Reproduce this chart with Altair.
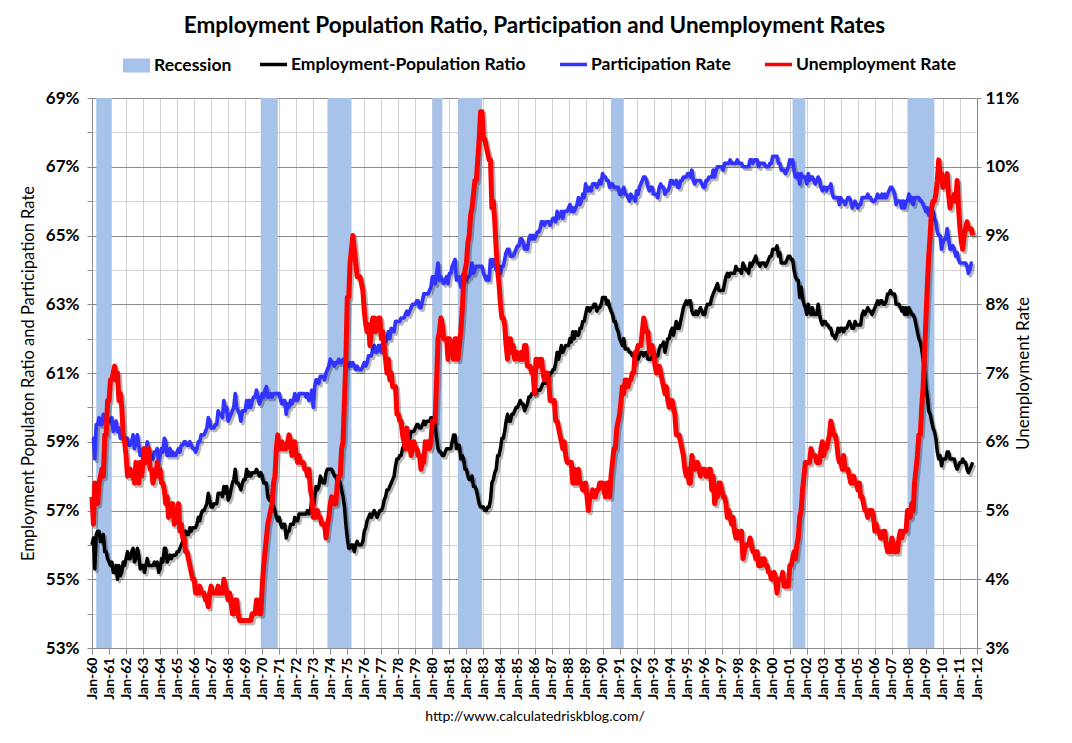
import altair as alt
import pandas as pd

start_month = "1960-01-01"

# Unemployment rate, monthly from Jan-1960 (percent)
ur = [
5.2, 4.8, 5.4, 5.2, 5.1, 5.4, 5.5, 5.6, 5.5, 6.1, 6.1, 6.6,
6.6, 6.9, 6.9, 7.0, 7.1, 6.9, 7.0, 6.6, 6.7, 6.5, 6.1, 6.0,
5.8, 5.5, 5.6, 5.6, 5.5, 5.5, 5.4, 5.7, 5.6, 5.4, 5.7, 5.5,
5.7, 5.9, 5.7, 5.7, 5.9, 5.6, 5.6, 5.4, 5.5, 5.5, 5.7, 5.5,
5.6, 5.4, 5.4, 5.3, 5.1, 5.2, 4.9, 5.0, 5.1, 5.1, 4.8, 5.0,
4.9, 5.1, 4.7, 4.8, 4.6, 4.6, 4.4, 4.4, 4.3, 4.2, 4.1, 4.0,
4.0, 3.8, 3.8, 3.8, 3.9, 3.8, 3.8, 3.8, 3.7, 3.7, 3.6, 3.8,
3.9, 3.8, 3.8, 3.8, 3.8, 3.9, 3.8, 3.8, 3.8, 4.0, 3.9, 3.8,
3.7, 3.8, 3.7, 3.5, 3.5, 3.7, 3.7, 3.5, 3.4, 3.4, 3.4, 3.4,
3.4, 3.4, 3.4, 3.4, 3.4, 3.5, 3.5, 3.5, 3.7, 3.7, 3.5, 3.5,
3.9, 4.2, 4.4, 4.6, 4.8, 4.9, 5.0, 5.1, 5.4, 5.5, 5.9, 6.1,
5.9, 5.9, 6.0, 5.9, 5.9, 5.9, 6.0, 6.1, 6.0, 5.8, 6.0, 6.0,
5.8, 5.7, 5.8, 5.7, 5.7, 5.7, 5.6, 5.6, 5.5, 5.6, 5.3, 5.2,
4.9, 5.0, 4.9, 5.0, 4.9, 4.9, 4.8, 4.8, 4.8, 4.6, 4.8, 4.9,
5.1, 5.2, 5.1, 5.1, 5.1, 5.4, 5.5, 5.5, 5.9, 6.0, 6.6, 7.2,
8.1, 8.1, 8.6, 8.8, 9.0, 8.8, 8.6, 8.4, 8.4, 8.4, 8.3, 8.2,
7.9, 7.7, 7.6, 7.7, 7.4, 7.6, 7.8, 7.8, 7.6, 7.7, 7.8, 7.8,
7.5, 7.6, 7.4, 7.2, 7.0, 7.2, 6.9, 7.0, 6.8, 6.8, 6.8, 6.4,
6.4, 6.3, 6.3, 6.1, 6.0, 5.9, 6.2, 5.9, 6.0, 5.8, 5.9, 6.0,
5.9, 5.9, 5.8, 5.8, 5.6, 5.7, 5.7, 6.0, 5.9, 6.0, 5.9, 6.0,
6.3, 6.3, 6.3, 6.9, 7.5, 7.6, 7.8, 7.7, 7.5, 7.5, 7.5, 7.2,
7.5, 7.4, 7.4, 7.2, 7.5, 7.5, 7.2, 7.4, 7.6, 7.9, 8.3, 8.5,
8.6, 8.9, 9.0, 9.3, 9.4, 9.6, 9.8, 9.8, 10.1, 10.4, 10.8, 10.8,
10.4, 10.4, 10.3, 10.2, 10.1, 10.1, 9.4, 9.5, 9.2, 8.8, 8.5, 8.3,
8.0, 7.8, 7.8, 7.7, 7.4, 7.2, 7.5, 7.5, 7.3, 7.4, 7.2, 7.3,
7.3, 7.2, 7.2, 7.3, 7.2, 7.4, 7.4, 7.1, 7.1, 7.1, 7.0, 7.0,
6.7, 7.2, 7.2, 7.1, 7.2, 7.2, 7.0, 6.9, 7.0, 7.0, 6.9, 6.6,
6.6, 6.6, 6.6, 6.3, 6.3, 6.2, 6.1, 6.0, 5.9, 6.0, 5.8, 5.7,
5.7, 5.7, 5.7, 5.4, 5.6, 5.4, 5.4, 5.6, 5.4, 5.4, 5.3, 5.3,
5.4, 5.2, 5.0, 5.2, 5.2, 5.3, 5.2, 5.2, 5.3, 5.3, 5.4, 5.4,
5.4, 5.3, 5.2, 5.4, 5.4, 5.2, 5.5, 5.7, 5.9, 5.9, 6.2, 6.3,
6.4, 6.6, 6.8, 6.7, 6.9, 6.9, 6.8, 6.9, 6.9, 7.0, 7.0, 7.3,
7.3, 7.4, 7.4, 7.4, 7.6, 7.8, 7.7, 7.6, 7.6, 7.3, 7.4, 7.4,
7.3, 7.1, 7.0, 7.1, 7.1, 7.0, 6.9, 6.8, 6.7, 6.8, 6.6, 6.5,
6.6, 6.6, 6.5, 6.4, 6.1, 6.1, 6.1, 6.0, 5.9, 5.8, 5.6, 5.5,
5.6, 5.4, 5.4, 5.8, 5.6, 5.6, 5.7, 5.7, 5.6, 5.5, 5.6, 5.6,
5.6, 5.5, 5.5, 5.6, 5.6, 5.3, 5.5, 5.1, 5.2, 5.2, 5.4, 5.4,
5.3, 5.2, 5.2, 5.1, 4.9, 5.0, 4.9, 4.8, 4.9, 4.7, 4.6, 4.7,
4.6, 4.6, 4.7, 4.3, 4.4, 4.5, 4.5, 4.5, 4.6, 4.5, 4.4, 4.4,
4.3, 4.4, 4.2, 4.3, 4.2, 4.3, 4.3, 4.2, 4.2, 4.1, 4.1, 4.0,
4.0, 4.1, 4.0, 3.8, 4.0, 4.0, 4.0, 4.1, 3.9, 3.9, 3.9, 3.9,
4.2, 4.2, 4.3, 4.4, 4.3, 4.5, 4.6, 4.9, 5.0, 5.3, 5.5, 5.7,
5.7, 5.7, 5.7, 5.9, 5.8, 5.8, 5.8, 5.7, 5.7, 5.7, 5.9, 6.0,
5.8, 5.9, 5.9, 6.0, 6.1, 6.3, 6.2, 6.1, 6.1, 6.0, 5.8, 5.7,
5.7, 5.6, 5.8, 5.6, 5.6, 5.6, 5.5, 5.4, 5.4, 5.5, 5.4, 5.4,
5.3, 5.4, 5.2, 5.2, 5.1, 5.0, 5.0, 4.9, 5.0, 5.0, 5.0, 4.9,
4.7, 4.8, 4.7, 4.7, 4.6, 4.6, 4.7, 4.7, 4.5, 4.4, 4.5, 4.4,
4.6, 4.5, 4.4, 4.5, 4.4, 4.6, 4.7, 4.6, 4.7, 4.7, 4.7, 5.0,
5.0, 4.9, 5.1, 5.0, 5.4, 5.6, 5.8, 6.1, 6.1, 6.5, 6.8, 7.3,
7.8, 8.3, 8.7, 9.0, 9.4, 9.5, 9.5, 9.6, 9.8, 10.1, 9.9, 9.9,
9.7, 9.8, 9.8, 9.9, 9.6, 9.4, 9.5, 9.5, 9.6, 9.5, 9.8, 9.4,
9.1, 8.9, 8.8, 9.0, 9.1, 9.2, 9.1, 9.1, 9.1, 9.0,
]

# Participation rate, monthly from Jan-1960 (percent)
lfpr = [
59.1, 59.1, 58.5, 59.5, 59.5, 59.7, 59.5, 59.5, 59.8, 59.6, 59.6, 59.7,
59.6, 59.6, 59.7, 59.3, 59.4, 59.6, 59.3, 59.4, 59.1, 59.1, 59.2, 59.0,
59.1, 59.1, 58.9, 58.9, 59.0, 59.2, 58.8, 59.0, 59.2, 58.9, 58.6, 58.7,
58.8, 58.7, 58.7, 59.0, 58.8, 58.6, 58.6, 58.5, 58.7, 58.7, 58.8, 58.4,
58.6, 58.8, 58.7, 59.1, 59.0, 58.6, 58.6, 58.8, 58.6, 58.7, 58.6, 58.6,
58.7, 58.8, 58.7, 58.9, 58.9, 59.0, 59.0, 58.9, 58.9, 59.0, 58.9, 58.8,
58.8, 58.7, 58.8, 59.0, 59.0, 59.2, 59.2, 59.2, 59.3, 59.4, 59.7, 59.6,
59.4, 59.4, 59.4, 59.5, 59.5, 59.9, 59.8, 59.8, 59.7, 60.2, 59.9, 60.0,
59.6, 59.7, 59.8, 59.9, 60.0, 60.4, 60.0, 59.9, 59.8, 59.6, 59.9, 59.9,
59.9, 60.2, 60.0, 60.2, 60.0, 60.2, 60.3, 60.3, 60.5, 60.3, 60.1, 60.2,
60.4, 60.3, 60.5, 60.6, 60.3, 60.3, 60.4, 60.3, 60.4, 60.4, 60.4, 60.4,
60.4, 60.2, 60.1, 60.2, 60.2, 59.8, 60.1, 60.0, 60.2, 60.1, 60.2, 60.4,
60.2, 60.2, 60.4, 60.4, 60.4, 60.4, 60.4, 60.3, 60.4, 60.2, 60.3, 60.5,
60.0, 60.6, 60.8, 60.8, 60.7, 60.9, 60.9, 60.9, 60.8, 61.0, 61.1, 61.2,
61.4, 61.3, 61.3, 61.2, 61.3, 61.3, 61.4, 61.3, 61.3, 61.4, 61.4, 61.3,
61.2, 61.2, 61.3, 61.2, 61.3, 61.2, 61.1, 61.2, 61.1, 61.1, 61.1, 61.2,
61.3, 61.2, 61.3, 61.5, 61.5, 61.5, 61.7, 61.8, 61.6, 61.6, 61.8, 61.8,
61.6, 61.9, 61.9, 61.9, 62.0, 62.2, 62.0, 62.3, 62.2, 62.2, 62.5, 62.5,
62.5, 62.5, 62.6, 62.6, 62.6, 62.7, 62.8, 62.7, 62.8, 62.9, 63.0, 63.0,
63.0, 63.1, 63.1, 62.9, 62.9, 63.1, 63.3, 63.3, 63.3, 63.3, 63.4, 63.5,
63.8, 63.8, 63.6, 63.9, 64.2, 63.7, 63.8, 63.7, 63.6, 63.7, 63.8, 63.6,
63.9, 63.9, 64.1, 64.2, 64.3, 63.7, 63.8, 63.8, 63.5, 63.8, 63.9, 63.7,
63.7, 63.8, 63.8, 63.9, 64.2, 63.9, 64.0, 64.1, 64.1, 64.1, 64.1, 64.1,
63.9, 63.8, 63.7, 63.8, 63.7, 64.3, 64.1, 64.3, 64.2, 64.0, 64.1, 64.1,
63.9, 64.1, 64.1, 64.3, 64.5, 64.6, 64.6, 64.4, 64.4, 64.4, 64.5, 64.6,
64.7, 64.7, 64.9, 64.9, 64.8, 64.6, 64.7, 64.6, 64.9, 65.0, 64.9, 65.0,
64.9, 65.0, 65.1, 65.1, 65.2, 65.4, 65.4, 65.3, 65.4, 65.4, 65.4, 65.3,
65.4, 65.5, 65.5, 65.4, 65.7, 65.5, 65.6, 65.7, 65.5, 65.7, 65.7, 65.7,
65.8, 65.9, 65.7, 65.8, 65.7, 65.8, 65.9, 66.1, 65.9, 66.0, 66.2, 66.1,
66.5, 66.3, 66.3, 66.4, 66.3, 66.5, 66.5, 66.5, 66.4, 66.5, 66.6, 66.5,
66.8, 66.7, 66.7, 66.6, 66.6, 66.4, 66.5, 66.5, 66.4, 66.4, 66.4, 66.4,
66.2, 66.2, 66.3, 66.4, 66.2, 66.2, 66.1, 66.0, 66.2, 66.1, 66.1, 66.0,
66.3, 66.2, 66.4, 66.5, 66.6, 66.7, 66.7, 66.6, 66.4, 66.3, 66.4, 66.4,
66.2, 66.2, 66.2, 66.1, 66.4, 66.5, 66.4, 66.4, 66.2, 66.3, 66.3, 66.4,
66.6, 66.6, 66.5, 66.5, 66.6, 66.4, 66.4, 66.6, 66.6, 66.7, 66.7, 66.7,
66.8, 66.8, 66.7, 66.9, 66.6, 66.5, 66.6, 66.6, 66.6, 66.6, 66.5, 66.4,
66.4, 66.6, 66.6, 66.7, 66.7, 66.7, 66.9, 66.7, 66.9, 67.0, 67.0, 67.0,
67.0, 66.9, 67.1, 67.1, 67.1, 67.1, 67.2, 67.1, 67.1, 67.1, 67.1, 67.2,
67.1, 67.1, 67.1, 67.0, 67.0, 67.0, 67.0, 67.0, 67.2, 67.2, 67.1, 67.2,
67.2, 67.2, 67.0, 67.1, 67.1, 67.1, 67.1, 67.0, 67.0, 67.0, 67.1, 67.1,
67.3, 67.3, 67.3, 67.3, 67.1, 67.1, 66.9, 66.9, 66.9, 66.8, 66.9, 67.0,
67.2, 67.1, 67.2, 66.9, 66.7, 66.7, 66.8, 66.5, 66.8, 66.7, 66.7, 66.7,
66.5, 66.8, 66.6, 66.7, 66.7, 66.6, 66.5, 66.6, 66.7, 66.6, 66.4, 66.3,
66.4, 66.4, 66.3, 66.4, 66.4, 66.5, 66.2, 66.1, 66.1, 66.1, 66.1, 65.9,
66.1, 66.0, 66.0, 65.9, 66.0, 66.1, 66.1, 66.0, 65.8, 65.9, 66.0, 65.9,
65.8, 65.9, 65.9, 66.1, 66.1, 66.1, 66.1, 66.2, 66.1, 66.1, 66.0, 66.0,
66.0, 66.1, 66.2, 66.1, 66.1, 66.2, 66.1, 66.2, 66.1, 66.2, 66.3, 66.4,
66.4, 66.3, 66.2, 65.9, 66.0, 66.0, 66.0, 65.8, 66.0, 65.8, 66.0, 66.0,
66.2, 66.0, 66.1, 65.9, 66.1, 66.1, 66.1, 66.1, 66.0, 66.0, 65.9, 65.8,
65.7, 65.8, 65.6, 65.7, 65.7, 65.7, 65.5, 65.4, 65.1, 65.0, 65.0, 64.6,
64.8, 64.9, 64.9, 65.2, 64.9, 64.6, 64.6, 64.7, 64.6, 64.4, 64.5, 64.3,
64.2, 64.2, 64.2, 64.2, 64.2, 64.1, 63.9, 64.0, 64.2, 64.2,
]

# Employment-population ratio, monthly from Jan-1960 (percent)
epr = [
56.0, 56.2, 55.3, 56.3, 56.4, 56.4, 56.1, 56.1, 56.3, 55.8, 55.8, 55.6,
55.5, 55.4, 55.5, 55.2, 55.2, 55.4, 55.0, 55.4, 55.1, 55.2, 55.5, 55.4,
55.6, 55.8, 55.6, 55.6, 55.8, 55.9, 55.5, 55.6, 55.9, 55.7, 55.3, 55.4,
55.4, 55.2, 55.4, 55.6, 55.4, 55.4, 55.4, 55.4, 55.5, 55.4, 55.5, 55.2,
55.3, 55.6, 55.5, 55.9, 55.9, 55.5, 55.6, 55.7, 55.6, 55.7, 55.7, 55.7,
55.8, 55.8, 55.9, 56.0, 56.1, 56.2, 56.4, 56.3, 56.3, 56.5, 56.4, 56.5,
56.5, 56.5, 56.6, 56.8, 56.7, 56.9, 57.0, 57.0, 57.1, 57.2, 57.5, 57.3,
57.1, 57.1, 57.2, 57.2, 57.2, 57.5, 57.5, 57.5, 57.4, 57.7, 57.5, 57.7,
57.3, 57.4, 57.6, 57.8, 57.9, 58.2, 57.8, 57.8, 57.7, 57.6, 57.8, 57.9,
57.9, 58.2, 58.0, 58.1, 58.0, 58.1, 58.1, 58.1, 58.2, 58.1, 58.0, 58.1,
58.0, 57.8, 57.8, 57.8, 57.4, 57.3, 57.4, 57.2, 57.1, 57.0, 56.8, 56.7,
56.8, 56.6, 56.5, 56.6, 56.6, 56.2, 56.4, 56.4, 56.6, 56.6, 56.6, 56.8,
56.7, 56.7, 56.9, 56.9, 56.9, 56.9, 56.9, 56.9, 57.0, 56.9, 57.0, 57.3,
57.1, 57.4, 57.7, 57.6, 57.7, 58.0, 57.9, 57.8, 57.8, 58.1, 58.2, 58.2,
58.2, 58.2, 58.1, 58.0, 58.0, 57.8, 57.9, 57.8, 57.6, 57.4, 57.1, 56.6,
56.2, 55.9, 55.9, 56.0, 56.0, 55.8, 56.0, 56.1, 56.0, 56.0, 56.0, 56.1,
56.4, 56.5, 56.7, 56.8, 56.9, 56.8, 56.9, 57.0, 56.9, 56.8, 56.9, 57.0,
57.0, 57.1, 57.3, 57.4, 57.6, 57.6, 57.7, 57.8, 57.9, 58.0, 58.3, 58.5,
58.5, 58.6, 58.6, 58.8, 58.9, 59.1, 59.0, 59.0, 59.1, 59.3, 59.3, 59.3,
59.4, 59.5, 59.5, 59.4, 59.4, 59.5, 59.6, 59.5, 59.6, 59.6, 59.6, 59.7,
59.6, 59.7, 59.5, 59.1, 58.8, 58.7, 58.7, 58.6, 58.6, 58.7, 58.8, 58.8,
58.8, 58.8, 59.0, 59.2, 59.2, 58.8, 58.9, 58.9, 58.5, 58.6, 58.5, 58.2,
58.2, 58.0, 57.9, 57.9, 58.0, 57.7, 57.7, 57.6, 57.4, 57.2, 57.1, 57.1,
57.1, 57.0, 57.0, 57.1, 57.1, 57.3, 57.8, 57.9, 58.1, 58.2, 58.6, 58.6,
58.8, 59.1, 59.1, 59.3, 59.6, 59.8, 59.6, 59.6, 59.8, 59.8, 59.9, 60.0,
60.0, 60.1, 60.2, 60.1, 60.1, 59.9, 60.0, 60.1, 60.3, 60.3, 60.4, 60.4,
60.6, 60.4, 60.5, 60.5, 60.5, 60.6, 60.7, 60.7, 60.7, 60.8, 60.8, 61.0,
61.0, 61.1, 61.1, 61.3, 61.6, 61.4, 61.6, 61.8, 61.6, 61.7, 61.8, 61.8,
61.8, 62.0, 61.9, 62.2, 62.0, 62.2, 62.1, 62.1, 62.3, 62.3, 62.5, 62.5,
62.7, 62.9, 62.9, 62.8, 62.9, 62.9, 63.0, 63.0, 62.8, 62.9, 62.9, 63.0,
63.2, 63.2, 63.2, 63.0, 63.1, 62.9, 62.8, 62.7, 62.5, 62.5, 62.3, 62.2,
62.0, 61.9, 61.8, 62.0, 61.7, 61.7, 61.7, 61.6, 61.6, 61.5, 61.5, 61.3,
61.5, 61.4, 61.5, 61.6, 61.6, 61.5, 61.6, 61.6, 61.4, 61.4, 61.4, 61.5,
61.4, 61.4, 61.5, 61.5, 61.7, 61.8, 61.8, 61.9, 61.6, 61.8, 62.0, 62.0,
62.2, 62.3, 62.1, 62.3, 62.5, 62.3, 62.3, 62.5, 62.7, 62.9, 63.0, 63.1,
63.0, 63.1, 63.1, 62.8, 62.7, 62.7, 62.8, 62.7, 62.8, 62.9, 62.8, 62.7,
62.7, 62.9, 63.0, 63.0, 63.0, 63.2, 63.3, 63.4, 63.5, 63.6, 63.4, 63.4,
63.4, 63.4, 63.6, 63.8, 63.9, 63.8, 63.9, 63.9, 63.9, 63.9, 64.1, 64.0,
64.0, 64.0, 63.9, 64.2, 64.1, 64.0, 64.0, 63.9, 64.2, 64.1, 64.2, 64.3,
64.4, 64.2, 64.2, 64.1, 64.2, 64.2, 64.2, 64.1, 64.2, 64.3, 64.4, 64.4,
64.6, 64.6, 64.6, 64.7, 64.4, 64.5, 64.2, 64.2, 64.2, 64.2, 64.3, 64.4,
64.4, 64.3, 64.3, 64.0, 63.8, 63.7, 63.7, 63.2, 63.5, 63.2, 63.0, 62.9,
62.7, 63.0, 62.8, 62.7, 62.9, 62.7, 62.7, 62.7, 63.0, 62.7, 62.5, 62.4,
62.5, 62.5, 62.4, 62.4, 62.3, 62.3, 62.1, 62.1, 62.0, 62.1, 62.3, 62.2,
62.3, 62.3, 62.2, 62.3, 62.3, 62.4, 62.5, 62.4, 62.3, 62.3, 62.5, 62.4,
62.4, 62.4, 62.4, 62.7, 62.8, 62.7, 62.8, 62.9, 62.8, 62.8, 62.7, 62.8,
62.9, 63.0, 63.1, 63.0, 63.1, 63.1, 63.0, 63.0, 63.1, 63.3, 63.3, 63.4,
63.3, 63.3, 63.3, 63.0, 63.0, 63.0, 62.9, 62.8, 62.9, 62.7, 62.9, 62.7,
62.9, 62.8, 62.7, 62.7, 62.6, 62.4, 62.2, 62.0, 61.9, 61.7, 61.4, 61.0,
60.6, 60.3, 59.9, 59.8, 59.6, 59.4, 59.3, 59.1, 58.7, 58.5, 58.6, 58.3,
58.5, 58.5, 58.5, 58.7, 58.7, 58.5, 58.5, 58.5, 58.5, 58.3, 58.2, 58.3,
58.4, 58.4, 58.5, 58.4, 58.4, 58.2, 58.1, 58.2, 58.3, 58.4,
]

# Recessions (first month, first month after the trough)
rec_start = ["1960-04-01", "1969-12-01", "1973-11-01", "1980-01-01",
             "1981-07-01", "1990-07-01", "2001-03-01", "2007-12-01"]
rec_end = ["1961-03-01", "1970-12-01", "1975-04-01", "1980-08-01",
           "1982-12-01", "1991-04-01", "2001-12-01", "2009-07-01"]

series_names = ["Employment-Population Ratio", "Participation Rate", "Unemployment Rate"]
series_colors = ["#000000", "#3333FF", "#FF0000"]
left_ticks = list(range(53, 70))
right_ticks = list(range(3, 12))

dates = pd.date_range(start_month, periods=len(ur), freq="MS")
df = pd.DataFrame({"date": dates, "ur": ur, "lfpr": lfpr, "epr": epr})
rec_df = pd.DataFrame({"start": pd.to_datetime(rec_start), "end": pd.to_datetime(rec_end),
                       "label": "Recession"})

FONT = "Lato"

x_scale = alt.Scale(domain=[alt.DateTime(year=1960, month=1, date=1),
                            alt.DateTime(year=2012, month=1, date=1)])
x_axis = alt.Axis(
    title="http://www.calculatedriskblog.com/",
    format="%b-%y", tickCount={"interval": "year", "step": 1},
    labelAngle=270, labelFont=FONT, labelFontSize=14, labelFontWeight="bold",
    labelColor="#000", labelFlush=False, labelOverlap=False, labelBound=False,
    labelPadding=3,
    grid=True, gridColor="#d2d2d2", gridWidth=1,
    domainColor="#8a8a8a", tickColor="#8a8a8a", tickSize=6,
    titleFont=FONT, titleFontSize=14, titleFontWeight="normal", titleColor="#000",
    titlePadding=10,
)
left_axis = alt.Axis(
    title="Employment Populaton Ratio and Participation Rate",
    values=left_ticks,
    labelExpr="datum.value % 2 == 1 ? datum.value + '%' : ''",
    labelFont=FONT, labelFontSize=17, labelFontWeight="bold", labelColor="#000",
    labelPadding=8,
    grid=True,
    gridColor=alt.condition("datum.value % 2 == 1", alt.value("#8c8c8c"), alt.value("#d2d2d2")),
    domainColor="#8a8a8a", tickColor="#8a8a8a", tickSize=5,
    titleFont=FONT, titleFontSize=16.5, titleFontWeight="normal", titleColor="#000",
    titlePadding=9,
)
right_axis = alt.Axis(
    title="Unemployment Rate", orient="right",
    values=right_ticks,
    labelExpr="datum.value + '%'",
    labelFont=FONT, labelFontSize=17, labelFontWeight="bold", labelColor="#000",
    labelPadding=4, grid=False,
    domainColor="#8a8a8a", tickColor="#8a8a8a", tickSize=4,
    titleFont=FONT, titleFontSize=17, titleFontWeight="normal", titleColor="#000",
    titleAngle=270, titlePadding=14,
)

color_scale = alt.Scale(domain=series_names, range=series_colors)
line_legend = alt.Legend(
    title=None, orient="none", direction="horizontal", legendX=166, legendY=-49,
    symbolType="stroke", symbolSize=729, symbolStrokeWidth=3.5,
    labelFont=FONT, labelFontSize=17.5, labelFontWeight="bold", labelColor="#000",
    labelLimit=400, labelOffset=2, columnPadding=27, padding=0,
)
rec_legend = alt.Legend(
    title=None, orient="none", legendX=31, legendY=-46,
    symbolType="M-1,-0.52H1V0.52H-1Z", symbolSize=729, symbolStrokeWidth=0,
    labelFont=FONT, labelFontSize=17.5, labelFontWeight="bold", labelColor="#000",
    labelOffset=4, padding=0,
)

base = alt.Chart(df)
x_enc = alt.X("date:T", scale=x_scale, axis=x_axis)

rects = alt.Chart(rec_df).mark_rect(opacity=1).encode(
    x=alt.X("start:T", scale=x_scale, axis=x_axis),
    x2="end:T",
    fill=alt.Fill("label:N", scale=alt.Scale(domain=["Recession"], range=["#A7C3EA"]),
                  legend=rec_legend),
)

left_y = alt.Scale(domain=[53, 69], nice=False)
right_y = alt.Scale(domain=[3, 11], nice=False)


def series_layers(field, name, width, yscale, yaxis):
    shadow = base.mark_line(color="#000", opacity=0.28, strokeWidth=width,
                            xOffset=2, yOffset=2.5, strokeJoin="round").encode(
        x=x_enc, y=alt.Y(f"{field}:Q", scale=yscale, axis=yaxis))
    line = base.mark_line(strokeWidth=width, strokeJoin="round").transform_calculate(
        series=f"'{name}'").encode(
        x=x_enc, y=alt.Y(f"{field}:Q", scale=yscale, axis=yaxis),
        color=alt.Color("series:N", scale=color_scale, legend=line_legend))
    return [shadow, line]


left_group = alt.layer(
    rects,
    *series_layers("epr", series_names[0], 3.5, left_y, left_axis),
    *series_layers("lfpr", series_names[1], 3.7, left_y, left_axis),
)
right_group = alt.layer(
    *series_layers("ur", series_names[2], 5, right_y, right_axis),
)

chart = alt.layer(left_group, right_group).resolve_scale(y="independent").properties(
    width=885, height=550,
    title=alt.TitleParams(
        "Employment Population Ratio, Participation and Unemployment Rates",
        font=FONT, fontSize=22.5, fontWeight="bold", color="#000", anchor="middle",
        offset=12),
    padding={"left": 12, "top": 6, "right": 5, "bottom": 5},
    background="white",
).configure_view(stroke=None)

chart.save("out.html", embed_options={"renderer": "svg", "actions": False})
